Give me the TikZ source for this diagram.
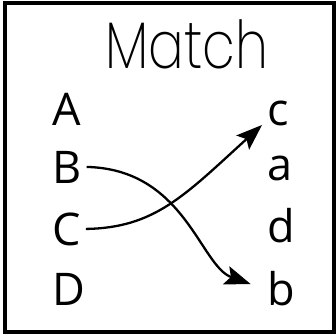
\documentclass[tikz,border=0pt]{standalone}
\usepackage{fontspec}
\setmainfont{Open Sans}
\newfontfamily\titlefont{Poppins ExtraLight}[FakeStretch=0.8]
\usetikzlibrary{arrows.meta}

\tikzset{
  letter/.style={anchor=base west,inner ysep=0pt,inner xsep=5pt,font=\fontsize{45}{45}\selectfont},
  matcharrow/.style={line width=2.3pt,-{Stealth[length=26pt,width=19pt,inset=5pt]}}
}

\begin{document}
\begin{tikzpicture}[x=1pt,y=-1pt]
  \useasboundingbox (0,0) rectangle (336,334);
  \draw[line width=4pt] (4.5,3.5) rectangle (334,331.5);
  \node[anchor=base,inner sep=0pt,font=\titlefont\fontsize{66}{66}\selectfont] (title) at (187,68) {Match};
  % left column
  \node[letter] (A) at (47,125) {A};
  \node[letter] (B) at (47,183) {B};
  \node[letter] (C) at (47,245) {C};
  \node[letter] (D) at (47,305) {D};
  % right column
  \node[letter] (c) at (262,125) {c};
  \node[letter] (a) at (262,180) {a};
  \node[letter] (d) at (262,242) {d};
  \node[letter] (b) at (262,305) {b};
  % answers
  \draw[matcharrow,shorten >=12pt] (B.east) .. controls (185,169) and (200,266) .. (b.west);
  \draw[matcharrow] (C.east) .. controls (155,228) and (185,195) .. (c.base west);
\end{tikzpicture}
\end{document}
